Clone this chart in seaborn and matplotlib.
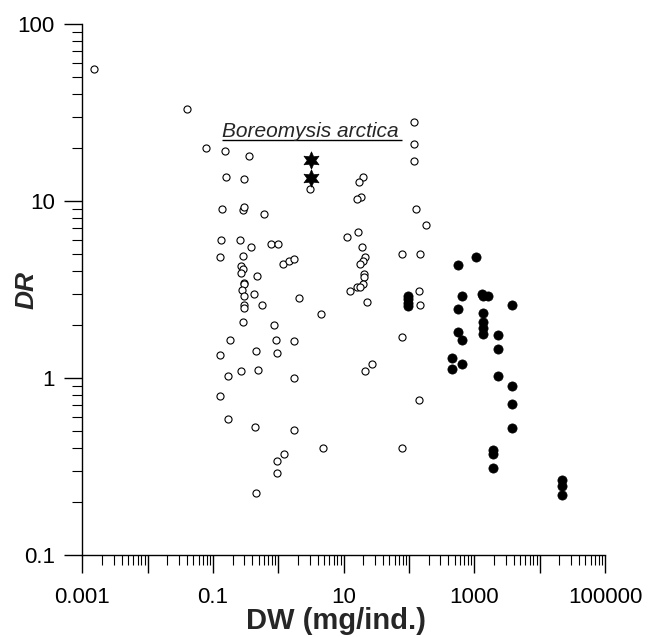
import matplotlib
matplotlib.use("Agg")
import matplotlib.pyplot as plt
import matplotlib.ticker as mticker
import seaborn as sns

# open circles: other species
open_dw = [0.0015, 0.040, 0.078, 0.15, 0.35, 0.156, 0.30, 3.05, 0.136, 0.29,
           0.30, 0.60, 0.13, 0.26, 0.385, 0.78, 0.98, 0.126, 0.29, 1.19,
           1.45, 1.75, 0.27, 0.29, 0.27, 0.475, 0.30, 0.30, 0.28, 0.30,
           0.30, 0.30, 0.43, 2.05, 0.57, 4.5, 0.29, 0.87, 0.18, 0.93,
           1.73, 0.126, 0.45, 0.94, 0.17, 0.27, 0.49, 1.73, 0.126, 0.17,
           0.44, 1.74, 4.8, 1.2, 0.94, 0.94, 0.45, 120, 120, 120,
           19.5, 17.2, 18.4, 16, 127, 182, 11.1, 16.7, 18.9, 79,
           146, 21.2, 19.8, 17.9, 20.2, 20.7, 19.5, 12.5, 15.8, 17.8,
           22.7, 144, 147, 79, 21.2, 27.4, 144, 79]
open_dr = [56, 33, 20, 19.2, 17.9, 13.6, 13.4, 11.7, 9.0, 8.9,
           9.2, 8.5, 6.0, 6.0, 5.5, 5.7, 5.7, 4.85, 4.9, 4.4,
           4.6, 4.7, 4.3, 4.15, 3.9, 3.75, 3.45, 3.38, 3.16, 2.9,
           2.6, 2.5, 3.0, 2.85, 2.6, 2.3, 2.06, 2.0, 1.65, 1.65,
           1.62, 1.35, 1.43, 1.38, 1.03, 1.10, 1.11, 1.0, 0.79, 0.59,
           0.53, 0.51, 0.40, 0.37, 0.34, 0.29, 0.225, 28, 21, 16.9,
           13.7, 12.8, 10.6, 10.3, 9.0, 7.3, 6.3, 6.7, 5.5, 5.0,
           5.0, 4.8, 4.6, 4.4, 3.85, 3.7, 3.4, 3.1, 3.25, 3.27,
           2.7, 3.1, 2.6, 1.7, 1.10, 1.2, 0.75, 0.40]

# filled circles
filled_dw = [95, 95, 95, 95, 557, 1050, 640, 557, 1300, 1370,
             1640, 1350, 1350, 1350, 1350, 3800, 557, 640, 2330, 2330,
             460, 460, 640, 2330, 3800, 3800, 3800, 1950, 1950, 1950,
             22000, 22000, 22000]
filled_dr = [2.9, 2.78, 2.65, 2.55, 4.35, 4.8, 2.9, 2.45, 3.0, 2.92,
             2.9, 2.33, 2.07, 1.92, 1.77, 2.6, 1.83, 1.63, 1.74, 1.46,
             1.29, 1.13, 1.2, 1.02, 0.9, 0.71, 0.52, 0.39, 0.37, 0.31,
             0.264, 0.245, 0.217]

# stars: Boreomysis arctica
star_dw = [3.15, 3.15]
star_dr = [17.1, 13.5]

# annotation text and underline
label_text = "Boreomysis arctica"
label_x = [0.136, 78]
label_y = 22.9
underline_y = 22.0

sns.set_style("ticks")
plt.rcParams['font.family'] = ['Liberation Sans', 'DejaVu Sans']

fig = plt.figure(figsize=(6.49, 6.37), dpi=100)
ax = fig.add_axes([0.1271, 0.1287, 0.8051, 0.8336])

sns.scatterplot(x=open_dw, y=open_dr, ax=ax, marker='o', color='white',
                edgecolor='black', linewidth=0.8, s=26, zorder=3)
sns.scatterplot(x=filled_dw, y=filled_dr, ax=ax, marker='o', color='black',
                edgecolor='black', linewidth=0.5, s=44, zorder=3)
sns.scatterplot(x=star_dw, y=star_dr, ax=ax, marker=(6, 1, 0), color='black',
                edgecolor='black', linewidth=0.5, s=155, zorder=4)

ax.text(label_x[0], label_y, label_text, fontsize=15, style='italic',
        ha='left', va='baseline')
ax.hlines(underline_y, label_x[0], label_x[1], color='black', linewidth=1)

ax.set_xscale('log')
ax.set_yscale('log')
ax.set_xlim(0.001, 100000)
ax.set_ylim(0.1, 100)

# major ticks at every decade, labels on every other decade for x
ax.xaxis.set_major_locator(mticker.LogLocator(base=10, numticks=20))
ax.xaxis.set_minor_locator(mticker.LogLocator(base=10, subs=range(2, 10), numticks=20))
ax.yaxis.set_major_locator(mticker.LogLocator(base=10, numticks=20))
ax.yaxis.set_minor_locator(mticker.LogLocator(base=10, subs=range(2, 10), numticks=20))

x_labels = {0.001: '0.001', 0.1: '0.1', 10: '10', 1000: '1000', 100000: '100000'}

def fmt_x(v, pos):
    for k, s in x_labels.items():
        if abs(v / k - 1) < 1e-6:
            return s
    return ''

ax.xaxis.set_major_formatter(mticker.FuncFormatter(fmt_x))
ax.yaxis.set_major_formatter(mticker.FuncFormatter(lambda v, p: '{:g}'.format(v)))
ax.xaxis.set_minor_formatter(mticker.NullFormatter())
ax.yaxis.set_minor_formatter(mticker.NullFormatter())

ax.tick_params(which='major', length=13, width=1, direction='out', color='black',
               labelsize=16, labelcolor='black')
ax.tick_params(axis='x', which='major', pad=10)
ax.tick_params(axis='y', which='major', pad=7)
ax.tick_params(which='minor', length=7, width=0.8, direction='out', color='black')

for sp in ['top', 'right']:
    ax.spines[sp].set_visible(False)
for sp in ['left', 'bottom']:
    ax.spines[sp].set_linewidth(1)
    ax.spines[sp].set_color('black')

ax.set_xlabel('DW (mg/ind.)', fontsize=21, fontweight='bold')
ax.xaxis.set_label_coords(0.485, -0.098)
ax.set_ylabel('DR', fontsize=19, fontweight='bold', style='italic')
ax.yaxis.set_label_coords(-0.085, 0.5)

fig.savefig('out.png', dpi=100, facecolor='white')
